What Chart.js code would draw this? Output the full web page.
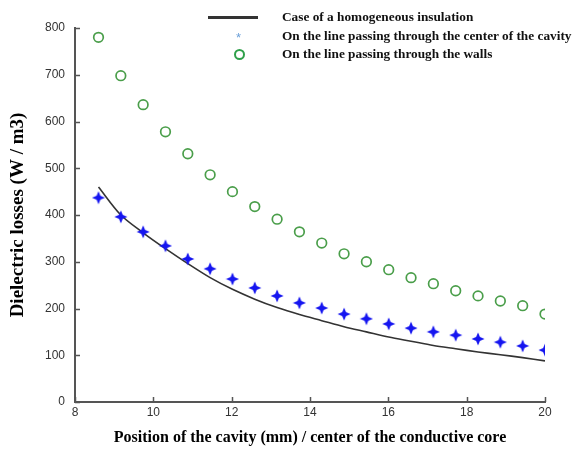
<!DOCTYPE html>
<html>
<head>
<meta charset="utf-8">
<script src="https://cdn.jsdelivr.net/npm/chart.js@4"></script>
<style>
  html, body { margin: 0; padding: 0; background: #fff; }
  #wrap { position: relative; width: 575px; height: 449px; }
  #legend { position: absolute; left: 0; top: 0; width: 575px; height: 70px; pointer-events: none;
            font-family: "Liberation Serif", "Times New Roman", serif; font-weight: bold; font-size: 13.3px; color: #111; }
  .row { position: absolute; left: 282px; white-space: nowrap; line-height: 16px; }
  .sample { position: absolute; }
</style>
</head>
<body>
<div id="wrap">
  <canvas id="c" width="575" height="449"></canvas>
  <div id="legend"></div>
</div>
<script>
// ---- data ----
const positions = [8.6, 9.17, 9.74, 10.31, 10.88, 11.45, 12.02, 12.59, 13.16, 13.73, 14.3,
                   14.87, 15.44, 16.01, 16.58, 17.15, 17.72, 18.29, 18.86, 19.43, 20.0];
const homogeneous = [460, 400, 362, 328, 296, 266, 241, 220, 202, 187, 174,
                     161, 150, 139, 130, 121, 114, 107, 101, 95, 88];
const centerLine = [437, 396, 364, 334, 306, 285, 263, 244, 227, 212, 201,
                    188, 178, 167, 158, 150, 143, 135, 128, 120, 111];
const wallsLine = [780, 698, 636, 578, 531, 486, 450, 418, 391, 364, 340,
                   317, 300, 283, 266, 253, 238, 227, 216, 206, 188];
const xTicks = [8, 10, 12, 14, 16, 18, 20];
const yTicks = [0, 100, 200, 300, 400, 500, 600, 700, 800];
const seriesLabels = ["Case of a homogeneous insulation",
                      "On the line passing through the center of the cavity",
                      "On the line passing through the walls"];
const xTitle = "Position of the cavity (mm) / center of the conductive core";
const yTitle = "Dielectric losses (W / m3)";

function pts(ys) { return positions.map((x, i) => ({ x: x, y: ys[i] })); }

// 4-point star marker
const star = document.createElement('canvas');
star.width = 14; star.height = 14;
(function () {
  const g = star.getContext('2d');
  const c = 7, r = 6.5, k = 1.9;
  g.fillStyle = '#1515f0';
  g.beginPath();
  g.moveTo(c, c - r);
  g.lineTo(c + k, c - k);
  g.lineTo(c + r, c);
  g.lineTo(c + k, c + k);
  g.lineTo(c, c + r);
  g.lineTo(c - k, c + k);
  g.lineTo(c - r, c);
  g.lineTo(c - k, c - k);
  g.closePath();
  g.fill();
})();

const inwardTicks = {
  id: 'inwardTicks',
  afterDraw(chart) {
    const ctx = chart.ctx, xs = chart.scales.x, ys = chart.scales.y;
    ctx.save();
    ctx.strokeStyle = '#555';
    ctx.lineWidth = 1.5;
    ctx.beginPath();
    xTicks.forEach(v => {
      const px = Math.round(xs.getPixelForValue(v)) + 0.5;
      ctx.moveTo(px, ys.bottom);
      ctx.lineTo(px, ys.bottom - 5);
    });
    yTicks.forEach(v => {
      const py = Math.round(ys.getPixelForValue(v)) + 0.5;
      ctx.moveTo(xs.left, py);
      ctx.lineTo(xs.left + 5, py);
    });
    ctx.stroke();
    ctx.restore();
  }
};

const tickFont = { family: '"Liberation Sans", Arial, sans-serif', size: 12 };
const xTitleFont = { family: '"Liberation Serif", "Times New Roman", serif', size: 16, weight: 'bold' };
const yTitleFont = { family: '"Liberation Serif", "Times New Roman", serif', size: 19, weight: 'bold' };

const chart = new Chart(document.getElementById('c'), {
  type: 'scatter',
  data: {
    datasets: [
      { label: seriesLabels[0], data: pts(homogeneous), showLine: true, borderColor: '#333',
        borderWidth: 1.6, pointRadius: 0, tension: 0.3, fill: false, order: 3 },
      { label: seriesLabels[1], data: pts(centerLine), showLine: false, pointStyle: star,
        pointRadius: 6, order: 2 },
      { label: seriesLabels[2], data: pts(wallsLine), showLine: false, pointStyle: 'circle',
        pointRadius: 4.8, borderColor: '#4a9e4a', backgroundColor: 'rgba(0,0,0,0)', borderWidth: 1.7, order: 1 }
    ]
  },
  options: {
    responsive: false,
    animation: false,
    events: [],
    layout: { padding: { left: 0, top: 28, right: 30, bottom: 0 } },
    plugins: { legend: { display: false }, tooltip: { enabled: false } },
    scales: {
      x: {
        type: 'linear', min: 8, max: 20,
        afterBuildTicks: s => { s.ticks = xTicks.map(v => ({ value: v })); },
        afterFit: s => { s.height = 47; },
        ticks: { font: tickFont, color: '#333', padding: 3, maxRotation: 0 },
        grid: { display: true, drawOnChartArea: false, drawTicks: false },
        border: { display: true, color: '#555', width: 2 },
        title: { display: true, text: xTitle, font: xTitleFont, color: '#000', padding: { top: 4, bottom: 2 } }
      },
      y: {
        type: 'linear', min: 0, max: 800,
        afterBuildTicks: s => { s.ticks = yTicks.map(v => ({ value: v })); },
        afterFit: s => { s.width = 75; },
        ticks: { font: tickFont, color: '#333', padding: 10 },
        grid: { display: true, drawOnChartArea: false, drawTicks: false },
        border: { display: true, color: '#555', width: 2 },
        title: { display: true, text: yTitle, font: yTitleFont, color: '#000', padding: { top: 7, bottom: 0 } }
      }
    }
  },
  plugins: [inwardTicks]
});

// HTML legend built from dataset labels
const leg = document.getElementById('legend');
const rowsY = [17, 36, 54];
chart.data.datasets.forEach((ds, i) => {
  const row = document.createElement('div');
  row.className = 'row';
  row.style.top = (rowsY[i] - 8) + 'px';
  row.textContent = ds.label;
  leg.appendChild(row);
});
// samples
const s0 = document.createElement('div');
s0.className = 'sample';
Object.assign(s0.style, { left: '208px', top: (rowsY[0] - 1.5) + 'px', width: '50px', height: '3px', background: '#333' });
leg.appendChild(s0);
const s1 = document.createElement('div');
s1.className = 'sample';
Object.assign(s1.style, { left: '236px', top: (rowsY[1] - 5) + 'px', fontFamily: '"Liberation Sans", Arial, sans-serif',
  fontSize: '13px', lineHeight: '13px', color: '#6a9fd8', fontWeight: 'normal' });
s1.textContent = '*';
leg.appendChild(s1);
const s2 = document.createElement('div');
s2.className = 'sample';
Object.assign(s2.style, { left: (239 - 5.5) + 'px', top: (rowsY[2] - 5.5) + 'px', width: '7px', height: '7px',
  border: '2.5px solid #2fa04a', borderRadius: '50%' });
leg.appendChild(s2);
</script>
</body>
</html>
